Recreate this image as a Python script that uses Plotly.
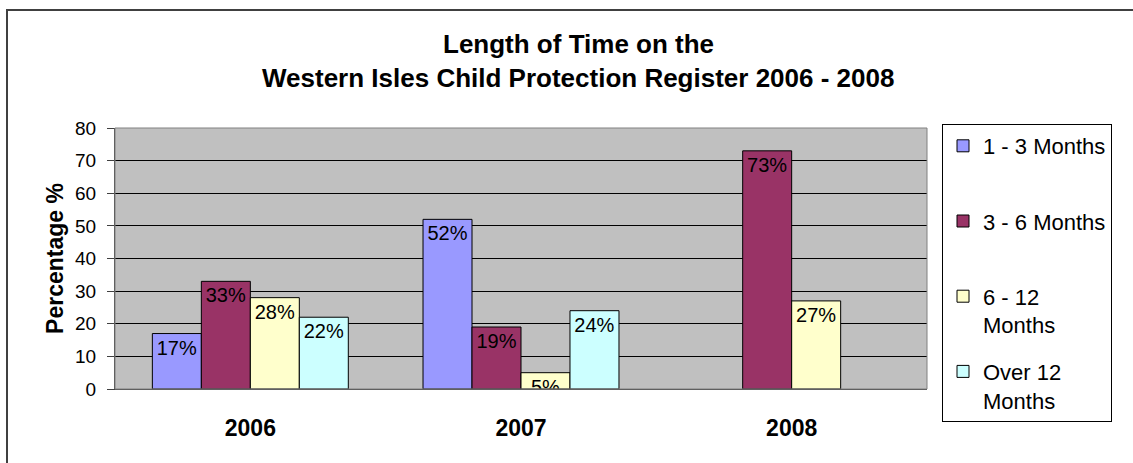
import plotly.graph_objects as go

years = ["2006", "2007", "2008"]
legend_labels = ["1 - 3 Months<br> ", "3 - 6 Months<br> ", "6 - 12<br>Months", "Over 12<br>Months"]
values_1_3 = [17, 52, None]
values_3_6 = [33, 19, 73]
values_6_12 = [28, 5, 27]
values_over_12 = [22, 24, None]
colors = ["#9999FF", "#993366", "#FFFFCC", "#CCFFFF"]
y_ticks = [0, 10, 20, 30, 40, 50, 60, 70, 80]

all_values = [values_1_3, values_3_6, values_6_12, values_over_12]
FONT = "Liberation Sans, Arial"

fig = go.Figure()
for i, (vals, col) in enumerate(zip(all_values, colors)):
    fig.add_trace(go.Bar(
        x=years, y=vals, name=legend_labels[i],
        marker=dict(color=col, line=dict(color="#000000", width=1)),
        text=[f"{v}%" if v is not None else "" for v in vals],
        textposition="inside", insidetextanchor="end", constraintext="none",
        textfont=dict(family=FONT, size=20, color="#000000"),
        legendgroup=f"g{i}",
    ))

L, R, T, B = 115, 206, 128, 74
W, H = 1133, 463
pw, ph = W - L - R, H - T - B

fig.update_layout(
    width=W, height=H,
    margin=dict(l=L, r=R, t=T, b=B),
    paper_bgcolor="#FFFFFF", plot_bgcolor="#C0C0C0",
    barmode="group", bargap=0.276, bargroupgap=0,
    font=dict(family=FONT, color="#000000"),
    showlegend=True,
    legend=dict(
        x=(942 - L) / pw, y=(H - B - 124) / ph, xanchor="left", yanchor="top",
        bgcolor="#FFFFFF", bordercolor="#000000", borderwidth=1,
        font=dict(family=FONT, size=22, color="#000000"),
        valign="top", tracegroupgap=15, maxheight=460,
    ),
    xaxis=dict(
        type="category", showgrid=False, showline=True, linecolor="#404040", linewidth=1,
        ticks="", tickfont=dict(size=23, family=FONT),
        ticklabelstandoff=18, automargin=False,
        tickvals=years, ticktext=[f"<b>{y}</b>" for y in years],
    ),
    yaxis=dict(
        range=[0, 80], tickvals=y_ticks, showgrid=True, gridcolor="#000000", gridwidth=1,
        showline=True, linecolor="#404040", linewidth=1,
        ticks="outside", ticklen=7, tickcolor="#404040",
        tickfont=dict(size=19, family=FONT),
        ticklabelstandoff=7, automargin=False, zeroline=False,
        title=dict(text="<b>Percentage %</b>", font=dict(size=23), standoff=5),
    ),
    annotations=[
        dict(text="<b>Length of Time on the</b>", xref="paper", yref="paper",
             x=(578 - L) / pw, y=(H - B - 44) / ph, xanchor="center", yanchor="middle",
             showarrow=False, font=dict(size=26, family=FONT)),
        dict(text="<b>Western Isles Child Protection Register 2006 - 2008</b>", xref="paper", yref="paper",
             x=(578 - L) / pw, y=(H - B - 78) / ph, xanchor="center", yanchor="middle",
             showarrow=False, font=dict(size=26, family=FONT)),
    ],
    shapes=[
        dict(type="rect", xref="paper", yref="paper", x0=0, x1=1, y0=0, y1=1,
             line=dict(color="#808080", width=1), layer="above"),
        dict(type="rect", xref="paper", yref="paper",
             x0=(7 - L) / pw, x1=(1170 - L) / pw, y0=(H - B - 480) / ph, y1=(H - B - 10) / ph,
             line=dict(color="#404040", width=2)),
    ],
)

fig.write_html("out.html")
